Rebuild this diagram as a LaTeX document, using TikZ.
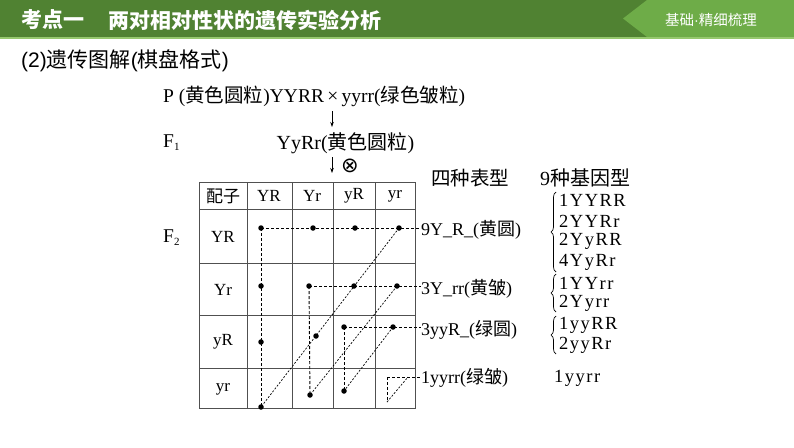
\documentclass[tikz,border=0pt]{standalone}
\usepackage{fontspec}
\setmainfont{Liberation Serif}
\setsansfont{Liberation Sans}
\newfontfamily\cjk{Noto Sans CJK SC}
\newfontfamily\symf{DejaVu Sans}
\usetikzlibrary{decorations.pathreplacing,arrows.meta}
\newcommand{\zh}[1]{{\cjk #1}}
\newcommand{\fs}[1]{\fontsize{#1}{#1}\selectfont}
\definecolor{hdrdark}{RGB}{80,130,50}
\definecolor{hdrlight}{RGB}{110,172,72}
\definecolor{hdrline}{RGB}{150,200,110}
\definecolor{grid}{RGB}{80,80,80}
\tikzset{
  txt/.style={inner sep=0pt, font=\fs{19.5}},
  tbltxt/.style={inner sep=0pt, font=\fs{17}},
  geno/.style={inner sep=0pt, anchor=west, font=\fs{18.5}\addfontfeature{LetterSpace=8}},
  pheno/.style={inner sep=0pt, anchor=west, font=\fs{18}},
  dot/.style={circle, fill=black, inner sep=0pt, minimum size=5.5pt},
  hline/.style={densely dashed, line width=0.9pt},
  dline/.style={dash pattern=on 2pt off 1.6pt, line width=0.7pt},
  arr/.style={line width=0.8pt, -{Stealth[length=5pt,width=3.5pt]}},
  brc/.style={decorate, decoration={brace, amplitude=5pt}, line width=0.7pt},
  tblline/.style={draw=grid, line width=1pt}
}
\begin{document}
\begin{tikzpicture}[x=1pt,y=-1pt]
\useasboundingbox (0,0) rectangle (794,447);
\fill[white] (0,0) rectangle (794,447);
% header bar
\fill[hdrdark] (0,0) rectangle (794,37);
\fill[hdrlight] (647,0) -- (794,0) -- (794,37) -- (647,37) -- (623,18.5) -- cycle;
\fill[hdrline] (0,37) rectangle (794,39);
\node[anchor=west, inner sep=0pt, text=white, font=\fs{21}\cjk\bfseries] (t1) at (21,20) {考点一};
\node[anchor=west, inner sep=0pt, text=white, font=\fs{21}\cjk\bfseries] (t2) at (108,20) {两对相对性状的遗传实验分析};
\node[inner sep=0pt, text=white, font=\fs{14.5}\cjk] (t3) at (711,20) {基础{\sffamily ·}精细梳理};
% subtitle
\node[anchor=west, inner sep=0pt, font=\sffamily\fs{21}] (sub) at (21,61) {(2)\zh{遗传图解}(\zh{棋盘格式})};
% cross
\node[txt, anchor=west] (p) at (163,96) {P (\zh{黄色圆粒})YYRR\,×\,yyrr(\zh{绿色皱粒})};
\coordinate (a1s) at (332,111);
\coordinate (a1e) at (332,127);
\draw[arr] (a1s) -- (a1e);
\node[txt, anchor=west] (f1) at (163,143) {F\raisebox{-3pt}{\fs{11}1}};
\node[txt, font=\fs{20}] (f1g) at (345.5,143) {YyRr(\zh{黄色圆粒})};
\coordinate (a2s) at (332,157);
\coordinate (a2e) at (332,173);
\draw[arr] (a2s) -- (a2e);
\node[inner sep=0pt, font=\symf\fs{21}] (self) at (350,166) {⊗};
\node[txt, anchor=west] (f2) at (163,238) {F\raisebox{-3pt}{\fs{11}2}};
% table
\draw[tblline] (199,182) rectangle (415,408);
\foreach \x in {247,292,333,375} \draw[tblline] (\x,182) -- (\x,408);
\foreach \y in {209,263,315,368} \draw[tblline] (199,\y) -- (415,\y);
\node[tbltxt] (h0) at (223,196) {\zh{配子}};
\node[tbltxt] (h1) at (269,196) {YR};
\node[tbltxt] (h2) at (312,196) {Yr};
\node[tbltxt] (h3) at (354,196) {yR};
\node[tbltxt] (h4) at (395,196) {yr};
\node[tbltxt] (r1) at (223,237) {YR};
\node[tbltxt] (r2) at (223,290) {Yr};
\node[tbltxt] (r3) at (223,342) {yR};
\node[tbltxt] (r4) at (223,389) {yr};
% dots
\node[dot] (d11) at (261,228) {};
\node[dot] (d12) at (313,228) {};
\node[dot] (d13) at (355,228) {};
\node[dot] (d14) at (399,228) {};
\node[dot] (d21) at (261,286) {};
\node[dot] (d22) at (309,286) {};
\node[dot] (d23) at (354,286) {};
\node[dot] (d24) at (397,286) {};
\node[dot] (d31) at (261,342) {};
\node[dot] (d32) at (316,336) {};
\node[dot] (d33) at (344,327) {};
\node[dot] (d34) at (393,327) {};
\node[dot] (d41) at (261,407) {};
\node[dot] (d42) at (310,395) {};
\node[dot] (d43) at (344,391) {};
\coordinate (tA) at (387,377);
\coordinate (tB) at (387,402);
\coordinate (tC) at (408,377);
% phenotypes
\node[pheno] (ph1) at (421,230) {9Y\_R\_(\zh{黄圆})};
\node[pheno] (ph2) at (421,289) {3Y\_rr(\zh{黄皱})};
\node[pheno] (ph3) at (421,330) {3yyR\_(\zh{绿圆})};
\node[pheno] (ph4) at (421,378) {1yyrr(\zh{绿皱})};
% connectors
\draw[hline] (d11.center) -- (d11.center -| ph1.west);
\draw[hline] (d11.center) -- (d41.center);
\draw[dline] (d14.center) -- (d41.center);
\draw[hline] (d22.center) -- (d22.center -| ph2.west);
\draw[hline] (d22.center) -- (d42.center);
\draw[dline] (d24.center) -- (d42.center);
\draw[hline] (d33.center) -- (d33.center -| ph3.west);
\draw[hline] (d33.center) -- (d43.center);
\draw[dline] (d34.center) -- (d43.center);
\draw[hline] (tA) -- (tA -| ph4.west);
\draw[hline] (tA) -- (tB);
\draw[dline] (tB) -- (tC);
% headings
\node[txt] (hp) at (470,178) {\zh{四种表型}};
\node[txt, font=\fs{20}] (hg) at (585,178) {9\zh{种基因型}};
% genotypes
\node[geno] (g1) at (559,200) {1YYRR};
\node[geno] (g2) at (559,221) {2YYRr};
\node[geno] (g3) at (559,241) {2YyRR};
\node[geno] (g4) at (559,262) {4YyRr};
\node[geno] (g5) at (559,283) {1YYrr};
\node[geno] (g6) at (559,303) {2Yyrr};
\node[geno] (g7) at (559,325) {1yyRR};
\node[geno] (g8) at (559,345) {2yyRr};
\node[geno] (g9) at (554,378) {1yyrr};
\coordinate (b1a) at (556,272);
\coordinate (b1b) at (556,192);
\coordinate (b2a) at (556,312);
\coordinate (b2b) at (556,274);
\coordinate (b3a) at (556,354);
\coordinate (b3b) at (556,316);
\draw[brc] (b1a) -- (b1b);
\draw[brc] (b2a) -- (b2b);
\draw[brc] (b3a) -- (b3b);
\end{tikzpicture}
\end{document}
